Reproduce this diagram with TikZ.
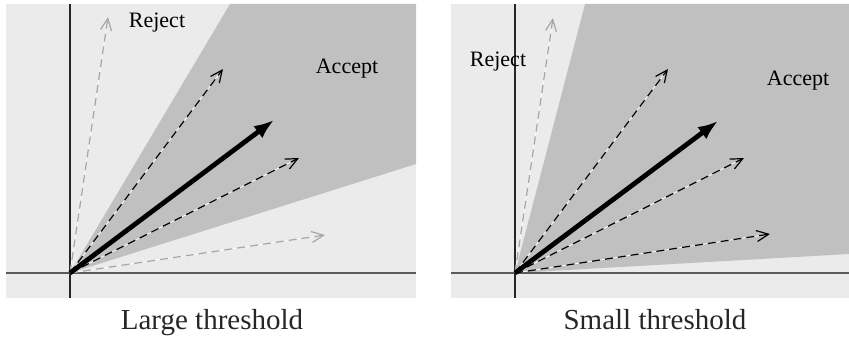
\documentclass[tikz,border=0pt]{standalone}
\usepackage{fontspec}
\setmainfont{Liberation Serif}
\usetikzlibrary{arrows.meta}
\definecolor{BgGray}{HTML}{EBEBEB}
\definecolor{AcceptGray}{HTML}{C0C0C0}
\definecolor{FaintGray}{HTML}{A6A6A6}
\definecolor{AxisGray}{HTML}{5A5A5A}
\tikzset{
  panelbg/.style={fill=BgGray,draw=none},
  acceptzone/.style={fill=AcceptGray,draw=none},
  axisline/.style={line width=0.6pt,draw=AxisGray},
  votearrow/.style={-{Straight Barb[length=6pt,width=5.5pt]},line width=0.6pt,dash pattern=on 4pt off 2.5pt,
    preaction={draw=white!80!BgGray,solid,-}},
  faintarrow/.style={votearrow,draw=FaintGray},
  meanarrow/.style={-{Latex[length=10pt,width=7.5pt]},line width=2.4pt,draw=black},
  zonelabel/.style={font=\fontsize{11}{13}\selectfont,inner sep=0pt},
  captionlabel/.style={font=\fontsize{14.5}{16}\selectfont,inner sep=0pt,anchor=base,text=black!85}
}

\begin{document}
\begin{tikzpicture}[x=0.5pt,y=-0.5pt]
\useasboundingbox (0,0) rectangle (849,340);

% large threshold
\fill[panelbg] (6,4) rectangle (416,298);
\fill[acceptzone] (70,273) -- (230,4) -- (416,4) -- (416,164) -- cycle;
\draw[axisline] (6,273) -- (416,273);
\draw[axisline,draw=black!85] (70,4) -- (70,298);
\coordinate (Lo) at (70,273);
\coordinate (La) at (108,17);
\coordinate (Lb) at (223,69);
\coordinate (Lm) at (274,120);
\coordinate (Lc) at (299,158);
\coordinate (Ld) at (325,235);
\draw[faintarrow] (Lo) -- (La);
\draw[votearrow] (Lo) -- (Lb);
\draw[votearrow] (Lo) -- (Lc);
\draw[faintarrow] (Lo) -- (Ld);
\draw[meanarrow] (Lo) -- (Lm);
\node[zonelabel] (Lrej) at (157,23) {Reject};
\node[zonelabel] (Lacc) at (347,69) {Accept};
\node[captionlabel] (Lcap) at (212,330) {Large threshold};

% small threshold
\fill[panelbg] (451,4) rectangle (849,298);
\fill[acceptzone] (515,273) -- (585,4) -- (849,4) -- (849,254) -- cycle;
\draw[axisline] (451,273) -- (849,273);
\draw[axisline,draw=black!85] (515,4) -- (515,298);
\coordinate (So) at (515,273);
\coordinate (Sa) at (553,18);
\coordinate (Sb) at (668,69);
\coordinate (Sm) at (718,121);
\coordinate (Sc) at (744,158);
\coordinate (Sd) at (770,234);
\draw[faintarrow] (So) -- (Sa);
\draw[votearrow] (So) -- (Sb);
\draw[votearrow] (So) -- (Sc);
\draw[votearrow] (So) -- (Sd);
\draw[meanarrow] (So) -- (Sm);
\node[zonelabel] (Srej) at (498,62) {Reject};
\node[zonelabel] (Sacc) at (798,81) {Accept};
\node[captionlabel] (Scap) at (655,330) {Small threshold};
\end{tikzpicture}
\end{document}
